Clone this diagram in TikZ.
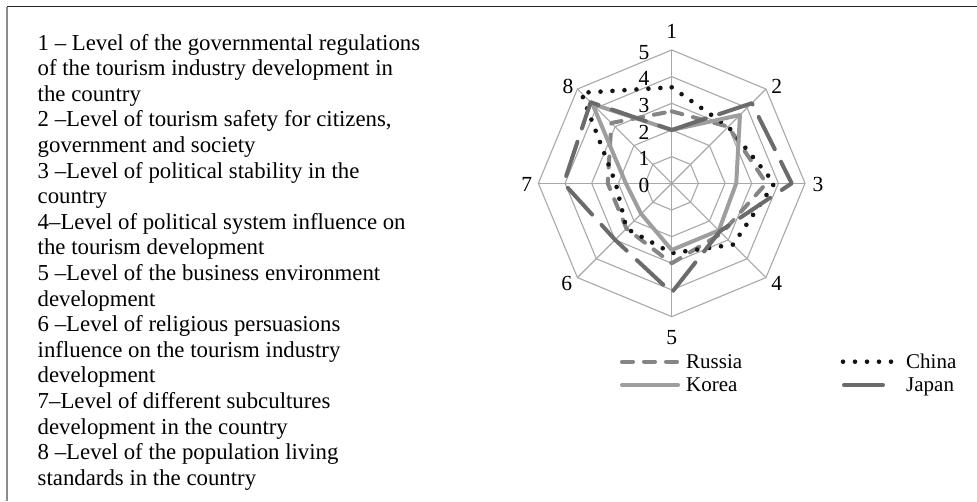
\documentclass[tikz,border=0pt]{standalone}
\usepackage{fontspec}
\setmainfont{Liberation Serif}
\definecolor{gridc}{gray}{0.66}
\definecolor{russiac}{gray}{0.52}
\definecolor{koreac}{gray}{0.62}
\definecolor{japanc}{gray}{0.42}
\definecolor{chinac}{gray}{0.08}
\definecolor{frametc}{gray}{0.15}
\definecolor{framelc}{gray}{0.55}
\begin{document}
\begin{tikzpicture}[x=1pt,y=-1pt,
  gridline/.style={draw=gridc, line width=1.1pt},
  series/.style={line width=4pt, line cap=round, line join=round},
  russia/.style={series, draw=russiac, dash pattern=on 11pt off 11pt},
  korea/.style={series, draw=koreac},
  japan/.style={series, draw=japanc, dash pattern=on 36pt off 14pt},
  china/.style={line width=4.6pt, line cap=round, draw=chinac, dash pattern=on 0pt off 12pt},
  txt/.style={font=\fontsize{22.8}{25.6}\selectfont, inner sep=0pt},
  lab/.style={font=\fontsize{21.5}{24}\selectfont, inner sep=0pt},
  legtxt/.style={font=\fontsize{21}{24}\selectfont, inner sep=0pt, anchor=base west}]
\useasboundingbox (0,0) rectangle (977,501);
% frame
\draw[draw=frametc, line width=1.5pt] (7.3,6.7) -- (977,6.7);
\draw[draw=framelc, line width=2pt] (7.3,6.7) -- (7.3,501);
% left text
\foreach \t [count=\i from 0] in {
  {1 – Level of the governmental regulations},
  {of the tourism industry development in},
  {the country},
  {2 –Level of tourism safety for citizens,},
  {government and society},
  {3 –Level of political stability in the},
  {country},
  {4–Level of political system influence on},
  {the tourism development},
  {5 –Level of the business environment},
  {development},
  {6 –Level of religious persuasions},
  {influence on the tourism industry},
  {development},
  {7–Level of different subcultures},
  {development in the country},
  {8 –Level of the population living},
  {standards in the country}}
  \node[txt, anchor=base west] (t\i) at (37.5,{50+25.6*\i}) {\t};
% radar
\begin{scope}[shift={(671.7,183.3)}, x=26.667pt, y=26.667pt]
  \foreach \r in {1,...,5}
    \draw[gridline] (90:\r) -- (45:\r) -- (0:\r) -- (-45:\r) -- (-90:\r) -- (-135:\r) -- (180:\r) -- (135:\r) -- cycle;
  \foreach \a in {90,45,...,-225}
    \draw[gridline] (0,0) -- (\a:5);
  % scale labels
  \foreach \v in {0,...,5}
    \node[lab] (s\v) at (-1.04,{\v-0.08}) {\v};
  % axis labels
  \node[lab] (a1) at (0,5.685) {1};
  \node[lab] (a2) at (3.94,3.62) {2};
  \node[lab] (a3) at (5.49,-0.06) {3};
  \node[lab] (a4) at (3.94,-3.74) {4};
  \node[lab] (a5) at (0,-5.80) {5};
  \node[lab] (a6) at (-3.94,-3.74) {6};
  \node[lab] (a7) at (-5.44,-0.06) {7};
  \node[lab] (a8) at (-3.89,3.62) {8};
  % series
  \draw[russia] (90:2.7) -- (45:3.0) -- (0:3.55) -- (-45:2.65) -- (-90:3.0) -- (-135:2.4) -- (180:2.4) -- (135:3.2) -- cycle;
  \draw[china] (90:3.6) -- (45:3.0) -- (0:3.85) -- (-45:3.25) -- (-90:2.62) -- (-135:2.4) -- (180:2.1) -- (135:4.8) -- cycle;
  \draw[korea] (90:2.0) -- (45:3.62) -- (0:2.42) -- (-45:2.5) -- (-90:2.5) -- (-135:1.62) -- (180:1.72) -- (135:4.2) -- cycle;
  \draw[japan] (90:2.0) -- (45:4.25) -- (0:4.5) -- (-45:2.55) -- (-90:4.1) -- (-135:3.0) -- (180:4.05) -- (135:4.3) -- cycle;
\end{scope}
% legend
\coordinate (lr1) at (622,361.7); \coordinate (lr2) at (678,361.7);
\coordinate (lk1) at (622,385);   \coordinate (lk2) at (678,385);
\coordinate (lc1) at (843,361.7); \coordinate (lc2) at (891,361.7);
\coordinate (lj1) at (844,385);   \coordinate (lj2) at (883,385);
\draw[russia] (lr1) -- (lr2);
\draw[korea] (lk1) -- (lk2);
\draw[china] (lc1) -- (lc2);
\draw[series, draw=japanc] (lj1) -- (lj2);
\node[legtxt] (lrus) at (686,368.5) {Russia};
\node[legtxt] (lkor) at (686,391.8) {Korea};
\node[legtxt] (lchi) at (906,368.5) {China};
\node[legtxt] (ljap) at (906,391.8) {Japan};
\end{tikzpicture}
\end{document}
